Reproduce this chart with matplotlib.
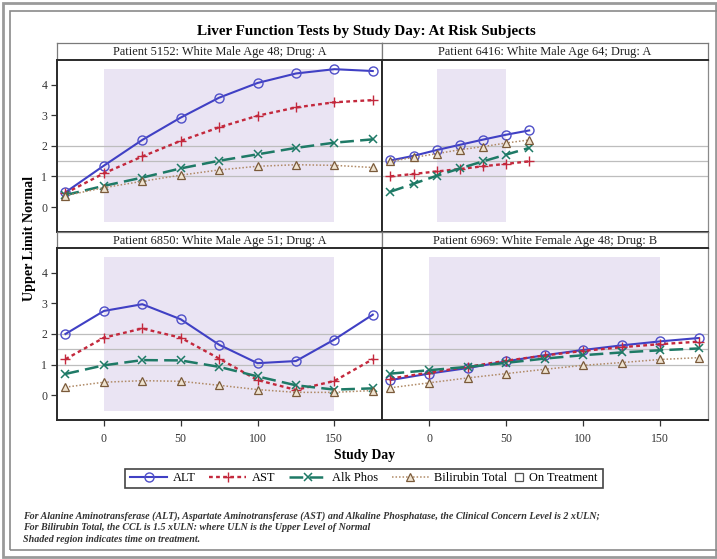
import matplotlib
matplotlib.use("Agg")
import matplotlib.pyplot as plt
from matplotlib.lines import Line2D
from matplotlib.patches import Rectangle

plt.rcParams['font.family'] = ['Liberation Serif', 'DejaVu Serif']

W, H = 717, 559

# ---- data -------------------------------------------------------------
tests = ["ALT", "AST", "Alk Phos", "Bilirubin Total"]

panel_titles = [
    "Patient 5152: White Male Age 48; Drug: A",
    "Patient 6416: White Male Age 64; Drug: A",
    "Patient 6850: White Male Age 51; Drug: A",
    "Patient 6969: White Female Age 48; Drug: B",
]

days_5152 = [-25, 0, 25, 50, 75, 100, 125, 150, 175]
alt_5152 = [0.48, 1.35, 2.19, 2.92, 3.57, 4.05, 4.36, 4.5, 4.44]
ast_5152 = [0.45, 1.1, 1.65, 2.16, 2.6, 2.98, 3.25, 3.42, 3.49]
alk_5152 = [0.39, 0.69, 0.96, 1.26, 1.51, 1.72, 1.93, 2.1, 2.21]
bili_5152 = [0.37, 0.63, 0.84, 1.04, 1.21, 1.33, 1.38, 1.36, 1.29]
treat_5152 = (0, 150)

days_6416 = [-25, -10, 5, 20, 35, 50, 65]
alt_6416 = [1.52, 1.67, 1.86, 2.03, 2.2, 2.36, 2.5]
ast_6416 = [1.0, 1.08, 1.16, 1.24, 1.33, 1.41, 1.49]
alk_6416 = [0.5, 0.76, 1.02, 1.26, 1.49, 1.71, 1.93]
bili_6416 = [1.49, 1.62, 1.74, 1.87, 1.97, 2.09, 2.19]
treat_6416 = (5, 50)

days_6850 = [-25, 0, 25, 50, 75, 100, 125, 150, 175]
alt_6850 = [2.0, 2.75, 2.97, 2.48, 1.65, 1.05, 1.12, 1.82, 2.63]
ast_6850 = [1.18, 1.88, 2.18, 1.88, 1.2, 0.5, 0.18, 0.47, 1.18]
alk_6850 = [0.7, 0.98, 1.15, 1.14, 0.93, 0.62, 0.33, 0.19, 0.23]
bili_6850 = [0.27, 0.43, 0.48, 0.46, 0.33, 0.19, 0.1, 0.1, 0.16]
treat_6850 = (0, 150)

days_6969 = [-25, 0, 25, 50, 75, 100, 125, 150, 175]
alt_6969 = [0.5, 0.71, 0.89, 1.11, 1.31, 1.48, 1.63, 1.76, 1.87]
ast_6969 = [0.55, 0.74, 0.93, 1.13, 1.3, 1.45, 1.57, 1.67, 1.75]
alk_6969 = [0.71, 0.82, 0.93, 1.06, 1.2, 1.31, 1.4, 1.47, 1.53]
bili_6969 = [0.25, 0.41, 0.57, 0.71, 0.85, 0.98, 1.07, 1.17, 1.23]
treat_6969 = (0, 150)

ref_levels = [1.0, 1.5, 2.0]
x_ticks = [0, 50, 100, 150]
y_ticks = [0, 1, 2, 3, 4]

panels = [
    (days_5152, [alt_5152, ast_5152, alk_5152, bili_5152], treat_5152),
    (days_6416, [alt_6416, ast_6416, alk_6416, bili_6416], treat_6416),
    (days_6850, [alt_6850, ast_6850, alk_6850, bili_6850], treat_6850),
    (days_6969, [alt_6969, ast_6969, alk_6969, bili_6969], treat_6969),
]

# ---- styles -----------------------------------------------------------
styles = {
    "ALT": dict(color="#4040C4", ls="-", lw=1.5, marker="o", ms=6.5,
                mfc="none", mec="#4F4FC8", mew=1.0),
    "AST": dict(color="#C3283C", ls=(0, (1.6, 1.4)), lw=1.7, marker="+", ms=7,
                mec="#C3283C", mew=1.0),
    "Alk Phos": dict(color="#1E7A66", ls=(0, (5.5, 2.5)), lw=1.8, marker="x", ms=6,
                     mec="#1E7A66", mew=1.1),
    "Bilirubin Total": dict(color="#B08A66", ls=(0, (1, 1.3)), lw=1.1, marker="^",
                            ms=6, mfc="#EFE3D0", mec="#7A5A3A", mew=0.9),
}
shade_color = "#EAE4F3"
frame_dark = "#2A2A2A"
XLIM = (-30.5, 181)
YLIM = (-0.8, 4.8)


def rect(x0, y0, x1, y1):
    """Figure-fraction rectangle from pixel edges measured from the top-left."""
    return [x0 / W, 1 - y1 / H, (x1 - x0) / W, (y1 - y0) / H]


fig = plt.figure(figsize=(W / 100, H / 100), dpi=100)
fig.patch.set_facecolor("white")

# page frames
fig.patches.append(Rectangle((3 / W, 2 / H), 713 / W, 554 / H, transform=fig.transFigure,
                             fill=False, ec="#9A9A9A", lw=2.0))
fig.patches.append(Rectangle((10 / W, 9 / H), 712 / W, 539 / H, transform=fig.transFigure,
                             fill=False, ec="#8A8A8A", lw=1.2))

fig.text(366 / W, 1 - 31 / H, "Liver Function Tests by Study Day: At Risk Subjects",
         ha="center", va="center", fontsize=10.9, fontweight="bold")

cols = [(57, 382), (382, 708)]
rows = [((43, 60), (60, 231.5)), ((231.5, 248), (248, 420))]

for i, (days, series, (t0, t1)) in enumerate(panels):
    r, c = divmod(i, 2)
    x0, x1 = cols[c]
    (hy0, hy1), (py0, py1) = rows[r]

    # header cell
    hax = fig.add_axes(rect(x0, hy0, x1, hy1))
    hax.set_xticks([]); hax.set_yticks([])
    for s in hax.spines.values():
        s.set_color("#7A7A7A"); s.set_linewidth(0.9)
    hax.text(0.5, 0.45, panel_titles[i], ha="center", va="center", fontsize=8.9,
             color="#222222", transform=hax.transAxes)

    ax = fig.add_axes(rect(x0, py0, x1, py1))
    ax.set_xlim(*XLIM)
    ax.set_ylim(*YLIM)
    ax.add_patch(Rectangle((t0, -0.5), t1 - t0, 5.0, fc=shade_color, ec="none", zorder=0))
    for lvl in ref_levels:
        ax.axhline(lvl, color="#BDBDBD", lw=0.9, zorder=1)
    for name, vals in zip(tests, series):
        ax.plot(days, vals, zorder=3, **styles[name])
    for s in ax.spines.values():
        s.set_color(frame_dark); s.set_linewidth(1.4)
    if c == 1:
        ax.spines["right"].set_color("#8A8A8A"); ax.spines["right"].set_linewidth(0.9)

    if r == 1:
        ax.set_xticks(x_ticks)
        ax.set_xticklabels([str(v) for v in x_ticks], fontsize=8.5, color="#333333")
        ax.tick_params(axis="x", length=4, width=0.9, color="#333333", pad=5)
    else:
        ax.set_xticks([])
    if c == 0:
        ax.set_yticks(y_ticks)
        ax.set_yticklabels([str(v) for v in y_ticks], fontsize=8.5, color="#333333")
        ax.tick_params(axis="y", length=4, width=0.9, color="#333333", pad=3)
    else:
        ax.set_yticks([])

fig.text(30 / W, 1 - 238 / H, "Upper Limit Normal", rotation=90, ha="center", va="center",
         fontsize=10.2, fontweight="bold")
fig.text(364 / W, 1 - 456 / H, "Study Day", ha="center", va="center",
         fontsize=9.8, fontweight="bold")

# ---- legend: line entries + compact "On Treatment" entry, one shared frame ----
yc = 1 - 478 / H
line_handles = [Line2D([], [], **styles[name]) for name in tests]
leg_kw = dict(frameon=False, fontsize=8.9, borderpad=0.15, borderaxespad=0,
              handletextpad=0.45, columnspacing=1.1)
leg1 = fig.legend(line_handles, tests, loc="center left", bbox_to_anchor=(0.2, yc),
                  ncol=4, handlelength=3.0, **leg_kw)
sq = Line2D([], [], ls="none", marker="s", ms=6, mfc="none", mec="#555555", mew=0.9)
leg2 = fig.legend([sq], ["On Treatment"], loc="center left", bbox_to_anchor=(0.6, yc),
                  ncol=1, handlelength=0.7, **leg_kw)

fig.canvas.draw()
renderer = fig.canvas.get_renderer()
w1 = leg1.get_window_extent(renderer).width
w2 = leg2.get_window_extent(renderer).width
gap = 4
left = 364 - (w1 + w2 + gap) / 2
leg1.set_bbox_to_anchor((left / W, yc), transform=fig.transFigure)
leg2.set_bbox_to_anchor(((left + w1 + gap) / W, yc), transform=fig.transFigure)
fig.canvas.draw()
b1 = leg1.get_window_extent(renderer)
b2 = leg2.get_window_extent(renderer)
pad = 3
box_top, box_bottom = 468.5, 487.5
fig.patches.append(Rectangle(((b1.x0 - pad) / W, 1 - box_bottom / H),
                             (b2.x1 - b1.x0 + 2 * pad) / W, (box_bottom - box_top) / H,
                             transform=fig.transFigure, fill=False, ec="#444444", lw=1.2))

notes = [
    "For Alanine Aminotransferase (ALT), Aspartate Aminotransferase (AST) and Alkaline Phosphatase, the Clinical Concern Level is 2 xULN;",
    "For Bilirubin Total, the CCL is 1.5 xULN: where ULN is the Upper Level of Normal",
    "Shaded region indicates time on treatment.",
]
for k, line in enumerate(notes):
    fig.text(23 / W, 1 - (516 + 11.5 * k) / H, line, ha="left", va="center",
             fontsize=7.2, fontstyle="italic", fontweight="bold", color="#333333")

fig.savefig("out.png", dpi=100)
